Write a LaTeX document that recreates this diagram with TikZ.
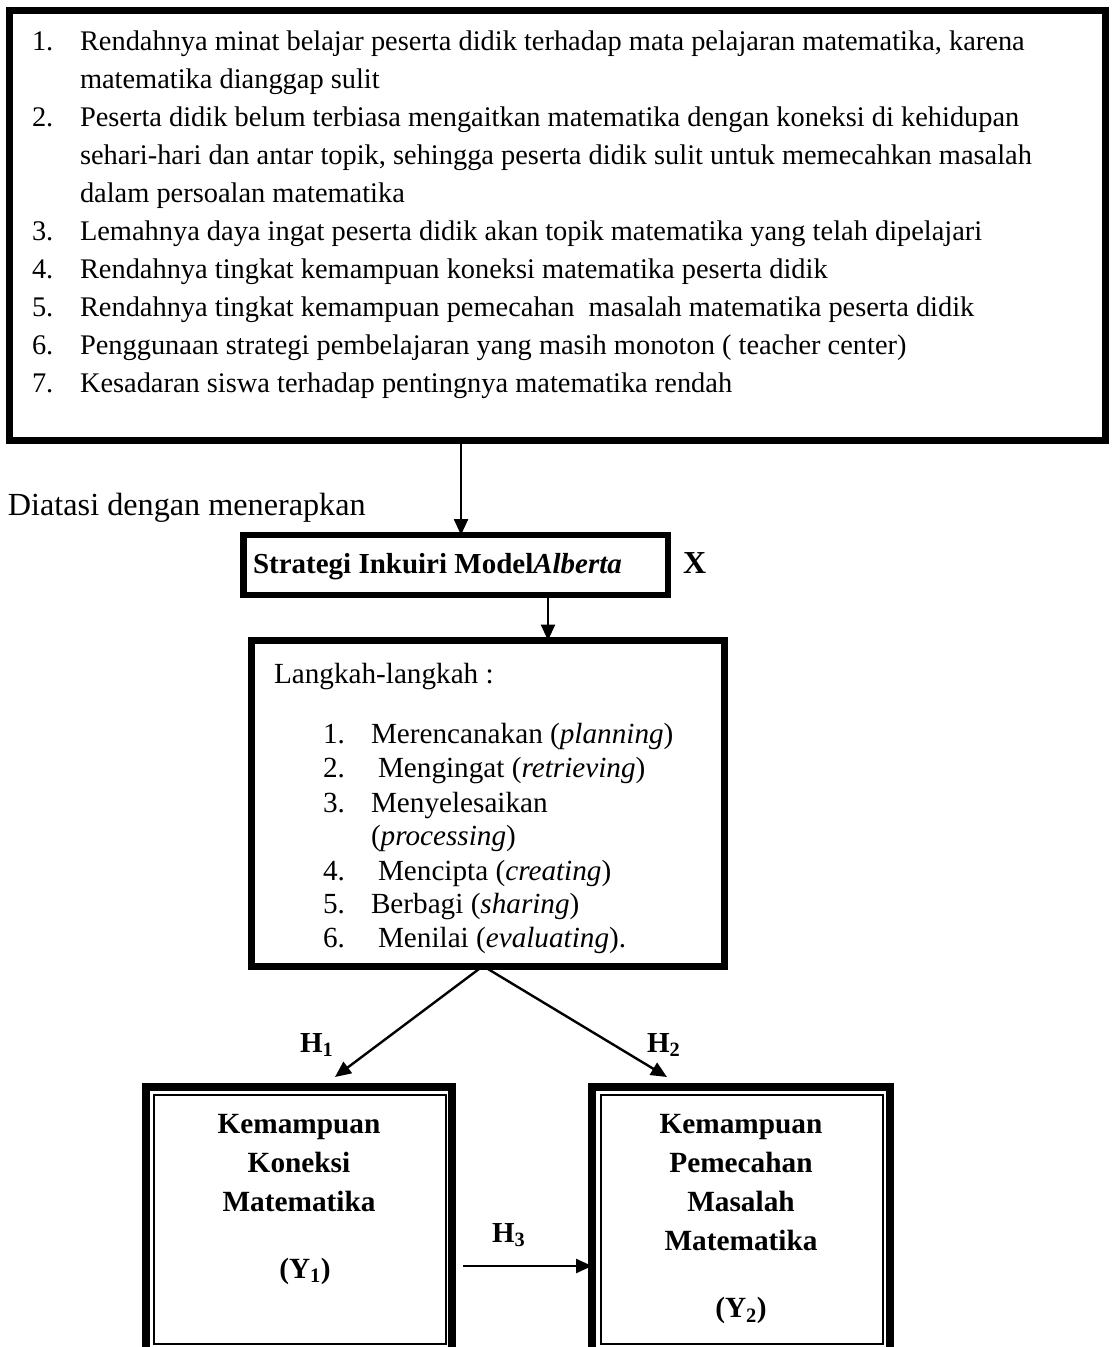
\documentclass[tikz,border=0pt]{standalone}
\usepackage{fontspec}
\setmainfont{Liberation Serif}
\usetikzlibrary{arrows.meta}
\begin{document}
\begin{tikzpicture}[x=1pt,y=-1pt,
  every node/.style={inner sep=0pt, outer sep=0pt},
  txt/.style={anchor=base west, font=\fontsize{28.4}{38}\selectfont},
  stxt/.style={anchor=base west, font=\fontsize{29.2}{38}\selectfont},
  btxt/.style={anchor=base, font=\fontsize{29.3}{38}\selectfont\bfseries},
  blbl/.style={anchor=base west, font=\fontsize{29}{38}\selectfont\bfseries},
  box/.style={draw, line width=7pt, anchor=north west},
  outerbox/.style={draw, line width=8pt, anchor=north west},
  innerbox/.style={draw, line width=1.8pt, anchor=north west},
  arr/.style={line width=2.4pt, -{Triangle[length=16pt,width=14pt]}},
]
\useasboundingbox (0,0) rectangle (1112,1347);
\clip (0,0) rectangle (1112,1347);

% top box
\node[box, minimum width=1096.5pt, minimum height=430pt] (top) at (9,10) {};
\foreach \n/\t [count=\i from 0] in {
  {1.}/{Rendahnya minat belajar peserta didik terhadap mata pelajaran matematika, karena},
  {}/{matematika dianggap sulit},
  {2.}/{Peserta didik belum terbiasa mengaitkan matematika dengan koneksi di kehidupan},
  {}/{sehari-hari dan antar topik, sehingga peserta didik sulit untuk memecahkan masalah},
  {}/{dalam persoalan matematika},
  {3.}/{Lemahnya daya ingat peserta didik akan topik matematika yang telah dipelajari},
  {4.}/{Rendahnya tingkat kemampuan koneksi matematika peserta didik},
  {5.}/{Rendahnya tingkat kemampuan pemecahan \ masalah matematika peserta didik},
  {6.}/{Penggunaan strategi pembelajaran yang masih monoton ( teacher center)},
  {7.}/{Kesadaran siswa terhadap pentingnya matematika rendah}}{
  \node[txt] (num\i) at (32,50+38.1*\i) {\n};
  \node[txt] (line\i) at (80,50+38.1*\i) {\t};
}

\node[txt, font=\fontsize{32.2}{38}\selectfont] (diatasi) at (8,515) {Diatasi dengan menerapkan};

% strategy box
\node[box, line width=6.5pt, minimum width=424.5pt, minimum height=60pt] (strat) at (243.5,535) {};
\node[blbl] (strattext) at (253,573) {Strategi Inkuiri Model\textit{Alberta}};
\node[blbl, font=\fontsize{32}{38}\selectfont\bfseries] (xlbl) at (683,573) {X};

% steps box
\node[box, minimum width=473pt, minimum height=325.5pt] (lang) at (251.5,640.5) {};
\node[stxt] (lh) at (274,683) {Langkah-langkah :};
\node[stxt] (n1) at (323,743) {1.};
\node[stxt] (s1) at (371,743) {Merencanakan (\textit{planning})};
\node[stxt] (n2) at (323,777) {2.};
\node[stxt] (s2) at (378,777) {Mengingat (\textit{retrieving})};
\node[stxt] (n3) at (323,812) {3.};
\node[stxt] (s3) at (371,812) {Menyelesaikan};
\node[stxt] (s3b) at (371,845) {(\textit{processing})};
\node[stxt] (n4) at (323,880) {4.};
\node[stxt] (s4) at (378,880) {Mencipta (\textit{creating})};
\node[stxt] (n5) at (323,913) {5.};
\node[stxt] (s5) at (371,913) {Berbagi (\textit{sharing})};
\node[stxt] (n6) at (323,947) {6.};
\node[stxt] (s6) at (378,947) {Menilai (\textit{evaluating}).};

% bottom boxes
\node[outerbox, minimum width=306pt, minimum height=280pt] (y1) at (146,1087) {};
\node[innerbox, minimum width=292pt, minimum height=249pt] (y1in) at (154,1095) {};
\node[outerbox, minimum width=298pt, minimum height=280pt] (y2) at (592,1087) {};
\node[innerbox, minimum width=282pt, minimum height=249pt] (y2in) at (601,1095) {};

\node[btxt] (k1) at (299,1133) {Kemampuan};
\node[btxt] (k2) at (299,1172) {Koneksi};
\node[btxt] (k3) at (299,1211) {Matematika};
\node[btxt] (k4) at (305,1278) {(Y\textsubscript{1})};

\node[btxt] (p1) at (741,1133) {Kemampuan};
\node[btxt] (p2) at (741,1172) {Pemecahan};
\node[btxt] (p3) at (741,1211) {Masalah};
\node[btxt] (p4) at (741,1250) {Matematika};
\node[btxt] (p5) at (741,1317) {(Y\textsubscript{2})};

% labels
\node[blbl] (h1) at (300,1052) {H\textsubscript{1}};
\node[blbl] (h2) at (647,1052) {H\textsubscript{2}};
\node[blbl] (h3) at (492,1242) {H\textsubscript{3}};

% connectors
\coordinate (a1) at (461,0);
\coordinate (a2) at (548,0);
\coordinate (a3) at (483,0);
\coordinate (t1) at (335,1077);
\coordinate (t2) at (667,1077);
\coordinate (h3s) at (463,1266);
\draw[arr] (top.south -| a1) -- (strat.north -| a1);
\draw[arr] (strat.south -| a2) -- (lang.north -| a2);
\draw[arr] (lang.south -| a3) -- (t1);
\draw[arr] (lang.south -| a3) -- (t2);
\draw[arr] (h3s) -- (h3s -| y2.west);
\end{tikzpicture}
\end{document}
